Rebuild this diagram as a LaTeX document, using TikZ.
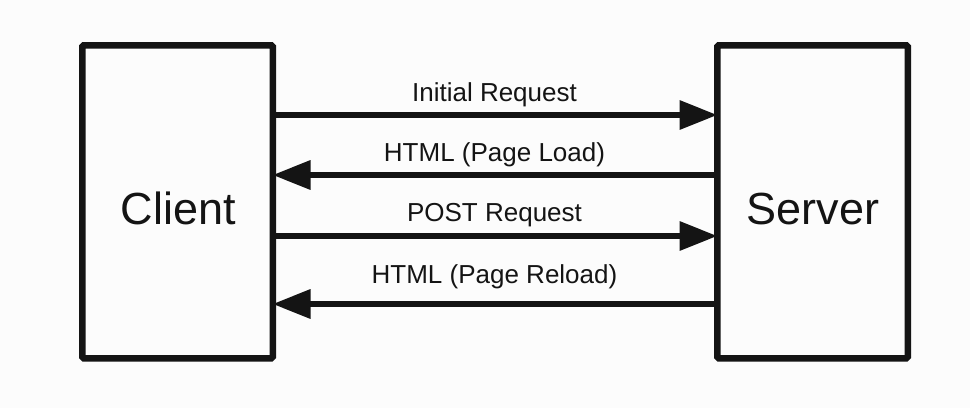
\documentclass[tikz,border=0pt]{standalone}
\usepackage{fontspec}
\setmainfont{Liberation Sans}
\usetikzlibrary{arrows.meta}
\definecolor{ink}{HTML}{141414}
\begin{document}
\begin{tikzpicture}[x=1pt,y=-1pt,
  box/.style={draw=ink,line width=6.5pt,rounded corners=1.5pt,minimum width=190.5pt,minimum height=313pt,inner sep=0pt,anchor=north west},
  big/.style={font=\fontsize{45}{50}\selectfont,text=ink,anchor=base,inner sep=0pt},
  lbl/.style={font=\fontsize{26}{30}\selectfont,text=ink,anchor=base,inner sep=0pt},
  arr/.style={draw=ink,line width=6.5pt,shorten >=-3.5pt,-{Triangle[length=38pt,width=28pt]}}]
\fill[white!99!black] (0,0) rectangle (970,408);
\useasboundingbox (0,0) rectangle (970,408);
\node[box] (client) at (79,42) {};
\node[box] (server) at (714,42) {};
\node[big] (ctext) at (178.5,224) {Client};
\node[big] (stext) at (813,224) {Server};
\coordinate (y1) at (0,115);
\coordinate (y2) at (0,175);
\coordinate (y3) at (0,236);
\coordinate (y4) at (0,304);
\draw[arr] (client.east |- y1) -- (server.west |- y1);
\draw[arr] (server.west |- y2) -- (client.east |- y2);
\draw[arr] (client.east |- y3) -- (server.west |- y3);
\draw[arr] (server.west |- y4) -- (client.east |- y4);
\node[lbl] (l1) at (494.5,101) {Initial Request};
\node[lbl] (l2) at (494.5,161) {HTML (Page Load)};
\node[lbl] (l3) at (494.5,221) {POST Request};
\node[lbl] (l4) at (494.5,283) {HTML (Page Reload)};
\end{tikzpicture}
\end{document}
